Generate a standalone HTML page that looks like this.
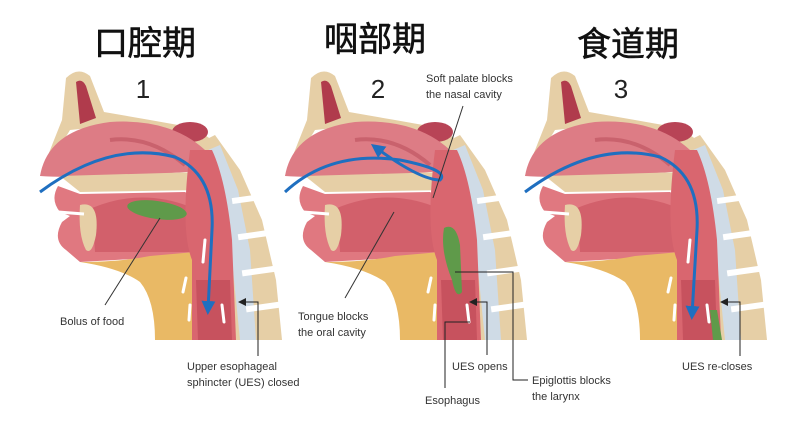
<!DOCTYPE html>
<html><head><meta charset="utf-8"><style>
html,body{margin:0;padding:0;background:#fff;}
svg{display:block}
.t{font-family:"Liberation Sans","Noto Sans CJK SC",sans-serif;}
.l{font-family:"Liberation Sans",sans-serif;font-size:11px;fill:#333;}
</style></head><body>
<svg width="800" height="430" viewBox="0 0 800 430" xmlns="http://www.w3.org/2000/svg">
<defs>
<g id="head">
  <!-- spine/back bone -->
  <path d="M195,145 L215,135 L240,170 L262,220 L276,280 L282,340 L205,340 Z" fill="#e6cfa6"/>
  <path d="M208,150 L220,145 L238,190 L250,250 L256,340 L240,340 L232,260 L218,190 Z" fill="#cfdbe6"/>
  <g fill="#fff">
    <rect x="232" y="196" width="30" height="6" transform="rotate(-8 247 199)"/>
    <rect x="238" y="232" width="32" height="6" transform="rotate(-8 254 235)"/>
    <rect x="242" y="268" width="34" height="6" transform="rotate(-8 259 271)"/>
    <rect x="246" y="304" width="34" height="6" transform="rotate(-8 263 307)"/>
  </g>
  <!-- skull / nose bone -->
  <path d="M66,78 Q78,66 90,76 L104,112 L150,120 L195,128 L212,140 L205,160 L190,150 L120,125 L70,130 L46,170 L40,176 Q50,150 62,120 Z" fill="#e6cfa6"/>
  <path d="M76,82 Q82,78 86,86 L96,118 L80,124 Z" fill="#b03b4c"/>
  <ellipse cx="190" cy="132" rx="18" ry="10" fill="#b84456"/>
  <!-- nasal cavity -->
  <path d="M40,176 Q48,130 110,122 Q170,118 205,150 L208,170 Q160,175 110,175 Q70,178 40,176 Z" fill="#dd7c85"/>
  <path d="M110,140 Q150,135 185,165" stroke="#c9626d" stroke-width="4" fill="none"/>
  <!-- palate -->
  <path d="M60,176 L200,172 L205,190 L80,192 Z" fill="#e6cfa6"/>
  <!-- mouth / tongue -->
  <path d="M58,186 Q50,200 60,212 L70,216 L62,222 Q52,240 66,250 L80,262 L150,258 L195,255 L198,200 L185,192 L80,194 Z" fill="#e07880"/>
  <path d="M92,208 Q140,188 188,206 L192,252 L95,252 Z" fill="#d2606b"/>
  <path d="M80,205 Q100,200 96,235 Q92,255 86,250 Q78,235 80,205Z" fill="#e6cfa6"/>
  <path d="M58,212 L84,214" stroke="#fff" stroke-width="3"/>
  <!-- neck yellow -->
  <path d="M80,262 Q120,262 150,256 L195,252 L198,340 L155,340 Q155,300 140,282 Q120,268 80,262 Z" fill="#e9b965"/>
  <!-- pharynx / esophagus -->
  <path d="M190,150 L212,150 Q226,180 232,240 L236,340 L192,340 L192,260 Q180,230 190,150 Z" fill="#d9666f"/>
  <path d="M196,280 L230,280 L232,340 L198,340 Z" fill="#c7525e"/>
  <g stroke="#fff" stroke-width="3" fill="none" stroke-linecap="round">
    <path d="M205,240 L203,262"/><path d="M186,278 L183,292"/><path d="M190,305 L189,320"/><path d="M222,305 L224,322"/>
  </g>
</g>
<marker id="ah" markerWidth="8" markerHeight="8" refX="6" refY="4" orient="auto" markerUnits="userSpaceOnUse"><path d="M0,0 L8,4 L0,8 Z" fill="#222"/></marker>
<marker id="ba" markerWidth="14" markerHeight="14" refX="9" refY="7" orient="auto" markerUnits="userSpaceOnUse"><path d="M0,0 L14,7 L0,14 Z" fill="#1f6fc0"/></marker>
</defs>

<text class="t" x="145" y="55" font-size="34" text-anchor="middle" fill="#111" stroke="#111" stroke-width="0.6">口腔期</text>
<text class="t" x="375" y="51" font-size="34" text-anchor="middle" fill="#111" stroke="#111" stroke-width="0.6">咽部期</text>
<text class="t" x="628" y="56" font-size="34" text-anchor="middle" fill="#111" stroke="#111" stroke-width="0.6">食道期</text>
<text class="t" x="143" y="98" font-size="26" text-anchor="middle" fill="#222">1</text>
<text class="t" x="378" y="98" font-size="26" text-anchor="middle" fill="#222">2</text>
<text class="t" x="621" y="98" font-size="26" text-anchor="middle" fill="#222">3</text>

<use href="#head"/>
<use href="#head" transform="translate(245,0)"/>
<use href="#head" transform="translate(485,0)"/>

<!-- panel 1 -->
<ellipse cx="157" cy="210" rx="30" ry="9" fill="#5f9a4a" transform="rotate(8 157 210)"/>
<path d="M40,192 Q110,140 175,157 Q215,175 212,230 L208,310" stroke="#1f6fc0" stroke-width="3" fill="none" marker-end="url(#ba)"/>
<path d="M160,218 L105,305" stroke="#333" stroke-width="1"/>
<path d="M258,356 L258,302 L240,302" stroke="#222" stroke-width="1" fill="none" marker-end="url(#ah)"/>
<text class="l" x="60" y="325">Bolus of food</text>
<text class="l" x="187" y="370">Upper esophageal</text>
<text class="l" x="187" y="386">sphincter (UES) closed</text>

<!-- panel 2 -->
<path d="M444,228 Q456,222 460,245 L462,292 Q456,300 452,280 Q440,250 444,228Z" fill="#5f9a4a"/>
<path d="M285,192 Q330,150 400,160 Q450,170 440,180 Q420,180 375,147" stroke="#1f6fc0" stroke-width="3" fill="none" marker-end="url(#ba)"/>
<path d="M463,106 L433,198" stroke="#333" stroke-width="1"/>
<path d="M394,212 L345,298" stroke="#333" stroke-width="1"/>
<path d="M487,355 L487,302 L471,302" stroke="#222" stroke-width="1" fill="none" marker-end="url(#ah)"/>
<path d="M455,272 L513,272 L513,380 L528,380" stroke="#222" stroke-width="1" fill="none"/>
<path d="M445,388 L445,322 L470,322" stroke="#222" stroke-width="1" fill="none"/>
<text class="l" x="426" y="82">Soft palate blocks</text>
<text class="l" x="426" y="98">the nasal cavity</text>
<text class="l" x="298" y="320">Tongue blocks</text>
<text class="l" x="298" y="336">the oral cavity</text>
<text class="l" x="452" y="370">UES opens</text>
<text class="l" x="425" y="404">Esophagus</text>
<text class="l" x="532" y="384">Epiglottis blocks</text>
<text class="l" x="532" y="400">the larynx</text>

<!-- panel 3 -->
<path d="M710,310 L717,310 L722,340 L713,340 Z" fill="#5f9a4a"/>
<path d="M525,192 Q595,140 660,157 Q700,175 697,230 L692,315" stroke="#1f6fc0" stroke-width="3" fill="none" marker-end="url(#ba)"/>
<path d="M740,356 L740,302 L722,302" stroke="#222" stroke-width="1" fill="none" marker-end="url(#ah)"/>
<text class="l" x="682" y="370">UES re-closes</text>
</svg>
</body></html>
